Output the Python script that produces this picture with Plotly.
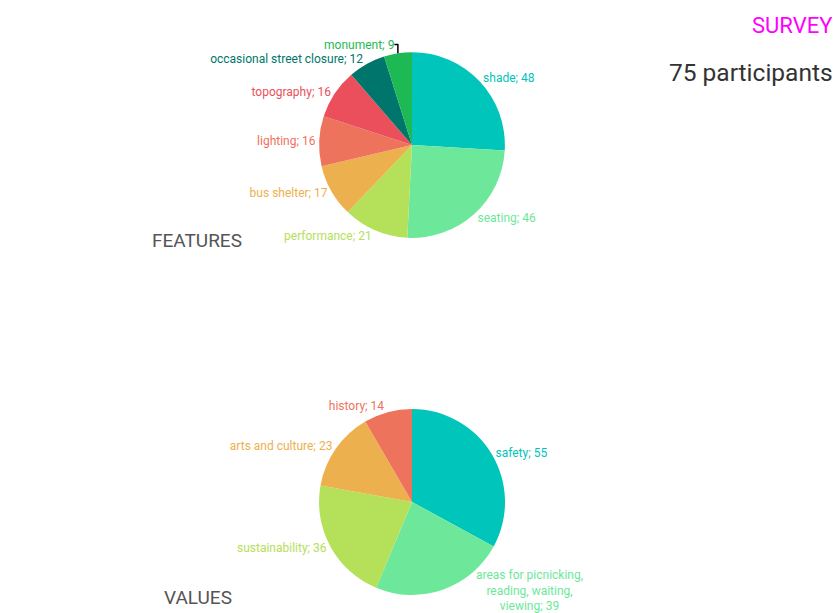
import plotly.graph_objects as go

# dados da pesquisa
feature_labels = ["shade", "seating", "performance", "bus shelter", "lighting",
                  "topography", "occasional street closure", "monument"]
feature_counts = [48, 46, 21, 17, 16, 16, 12, 9]
feature_colors = ["#00C5BA", "#6DE89A", "#B5E05A", "#EDB04E", "#EE735C",
                  "#EB4F5C", "#00756B", "#1DB954"]

value_labels = ["safety", "areas for picnicking, reading, waiting, viewing",
                "sustainability", "arts and culture", "history"]
value_counts = [55, 39, 36, 23, 14]
value_colors = ["#00C5BA", "#6DE89A", "#B5E05A", "#EDB04E", "#EE735C"]

participants = 75

FONT = "Roboto, sans-serif"

# a página tem 8px de margem no body, então a figura fica um pouco menor
W, H = 832, 605


def _pie(labels, counts, colors, x_domain, y_domain, skip=()):
    # rótulos "nome; valor"; os índices em skip ficam sem texto (vão como anotação)
    texts = ["" if i in skip else f"{lab}; {n}"
             for i, (lab, n) in enumerate(zip(labels, counts))]
    return go.Pie(
        labels=labels,
        values=counts,
        text=texts,
        textinfo="text",
        textposition="outside",
        sort=False,
        direction="clockwise",
        rotation=0,
        automargin=False,
        marker=dict(colors=colors, line=dict(width=0)),
        outsidetextfont=dict(color=colors, size=12, family=FONT),
        domain=dict(x=x_domain, y=y_domain),
        showlegend=False,
        hoverinfo="label+value",
    )


fig = go.Figure()
fig.add_trace(_pie(feature_labels, feature_counts, feature_colors,
                   [0.2056, 0.7656], [0.620, 0.927]))
fig.add_trace(_pie(value_labels, value_counts, value_colors,
                   [0.2056, 0.7656], [0.0298, 0.3372], skip=(1,)))

# rótulo longo em três linhas, posto à mão para não sair da página
long_label = value_labels[1].replace(", reading", ",<br>reading").replace(", viewing", ",<br>viewing")

fig.update_layout(
    width=W,
    height=H,
    margin=dict(l=0, r=0, t=0, b=0, autoexpand=False),
    paper_bgcolor="white",
    plot_bgcolor="white",
    annotations=[
        dict(text=f"{long_label}; {value_counts[1]}", x=0.6274, y=0.038,
             xref="paper", yref="paper", xanchor="center", yanchor="middle",
             align="center", showarrow=False,
             font=dict(size=12, color=value_colors[1], family=FONT)),
        dict(text="FEATURES", x=0.1707, y=0.6165, xref="paper", yref="paper",
             xanchor="left", yanchor="middle", showarrow=False,
             font=dict(size=19, color="#555555", family=FONT)),
        dict(text="VALUES", x=0.185, y=0.0248, xref="paper", yref="paper",
             xanchor="left", yanchor="middle", showarrow=False,
             font=dict(size=19, color="#555555", family=FONT)),
        dict(text="SURVEY", x=0.9935, y=0.9719, xref="paper", yref="paper",
             xanchor="right", yanchor="middle", showarrow=False,
             font=dict(size=22, color="#FF00FF", family=FONT)),
        dict(text=f"{participants} participants", x=0.9935, y=0.894, xref="paper", yref="paper",
             xanchor="right", yanchor="middle", showarrow=False,
             font=dict(size=24.5, color="#333333", family=FONT)),
    ],
)

fig.write_html("out.html")
